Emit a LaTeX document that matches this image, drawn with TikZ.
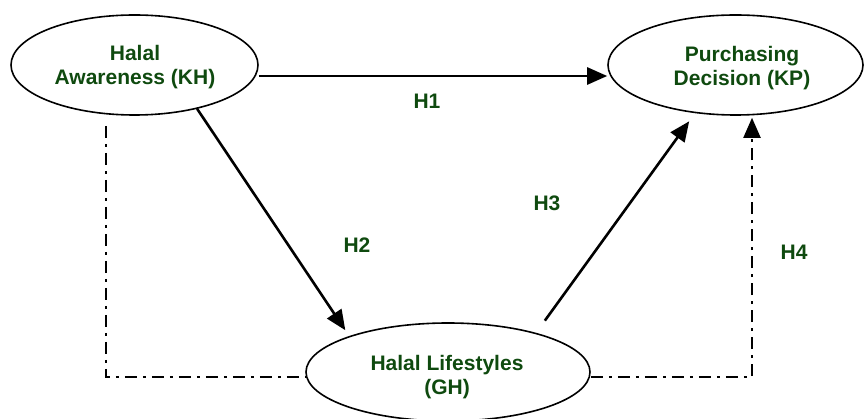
\documentclass[tikz,border=0pt]{standalone}
\usepackage{fontspec}
\setmainfont{Liberation Sans}
\usetikzlibrary{shapes.geometric,arrows.meta}
\definecolor{lbl}{HTML}{0F4A0F}
\begin{document}
\begin{tikzpicture}[x=1pt,y=-1pt,
  var/.style={ellipse,draw,line width=1.6pt,inner sep=0pt},
  txt/.style={align=center,inner sep=0pt,font=\fontsize{21}{24}\selectfont\bfseries,text=lbl},
  arr/.style={line width=2.6pt,-{Triangle[length=20pt,width=17pt]}},
  dd/.style={line width=2pt,dash pattern=on 12pt off 6pt on 3pt off 6pt},
  hl/.style={font=\fontsize{21}{24}\selectfont\bfseries,text=lbl}]
\useasboundingbox (0,0) rectangle (864,419);
\node[var,minimum width=247pt,minimum height=100pt] (KH) at (134.5,65) {};
\node[var,minimum width=255pt,minimum height=100pt] (KP) at (735.5,65) {};
\node[var,minimum width=284pt,minimum height=98pt] (GH) at (448,372) {};
\node[txt] (KHt) at (135,67) {Halal\\Awareness (KH)};
\node[txt] (KPt) at (742,68.5) {Purchasing\\Decision (KP)};
\node[txt] (GHt) at (447,377) {Halal Lifestyles\\(GH)};
\draw[arr] ([yshift=-11pt]KH.east) -- ([yshift=-11pt]KP.west);
\draw[arr,shorten >=7pt] (KH.-35) -- (GH.160.7);
\draw[arr,shorten <=15pt,shorten >=10pt] (GH.24) -- (KP.-130.5);
\draw[dd,-{Triangle[length=20pt,width=17pt]},shorten >=2pt] ([yshift=-5pt]GH.east) -| ([xshift=16.5pt]KP.south);
\draw[dd,shorten <=10pt] ([xshift=-28.5pt]KH.south) |- ([yshift=-5pt]GH.west);
\node[hl] (h1) at (427,101) {H1};
\node[hl] (h2) at (357,245) {H2};
\node[hl] (h3) at (547,203) {H3};
\node[hl] (h4) at (794,252) {H4};
\end{tikzpicture}
\end{document}
